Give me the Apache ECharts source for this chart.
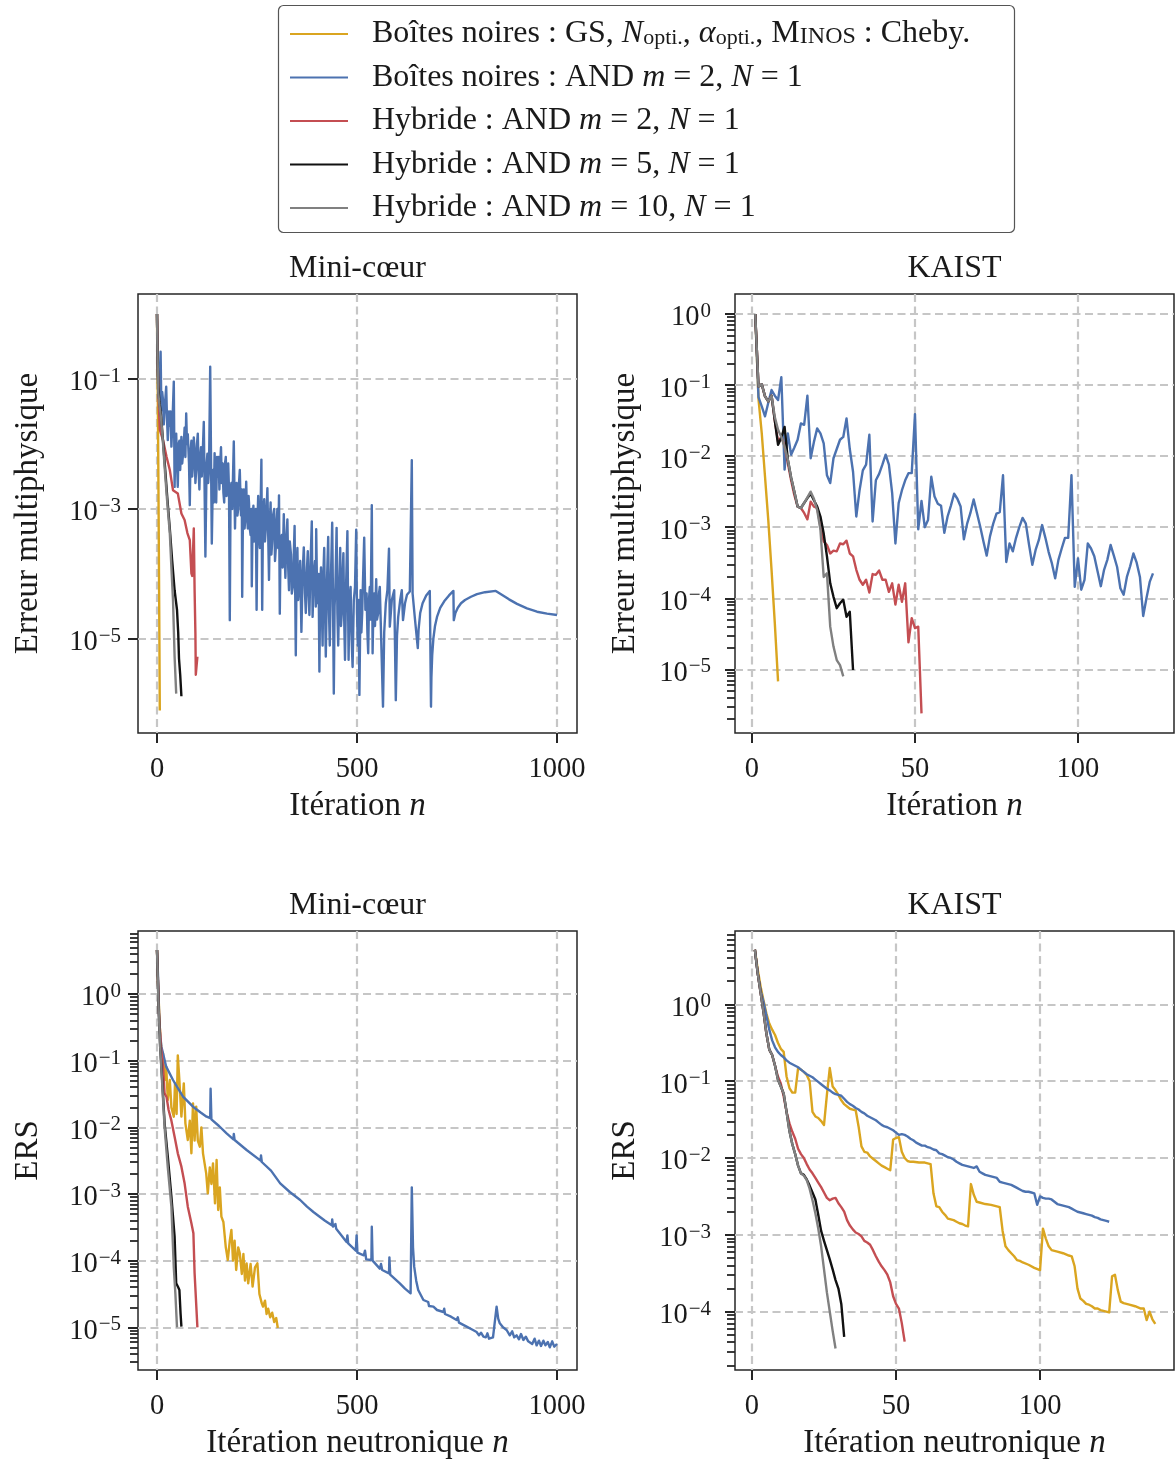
<!DOCTYPE html>
<html><head><meta charset="utf-8">
<script src="https://cdn.jsdelivr.net/npm/echarts@6/dist/echarts.min.js"></script>
<style>html,body{margin:0;padding:0;background:#fff}#c{width:1175px;height:1461px}</style>
</head><body><div id="c"></div>
<script>
// ---------- DATA (x = iteration, y = log10 of value) ----------
const seriesNames = [
  'Boîtes noires : GS, N opti., α opti., Minos : Cheby.',
  'Boîtes noires : AND m = 2, N = 1',
  'Hybride : AND m = 2, N = 1',
  'Hybride : AND m = 5, N = 1',
  'Hybride : AND m = 10, N = 1'
];
const legendLabels = [
  'Boîtes noires : GS, {i|N}{sub|opti.}, {i|α}{sub|opti.}, M{sc|INOS} : Cheby.',
  'Boîtes noires : AND {i|m} = 2, {i|N} = 1',
  'Hybride : AND {i|m} = 2, {i|N} = 1',
  'Hybride : AND {i|m} = 5, {i|N} = 1',
  'Hybride : AND {i|m} = 10, {i|N} = 1'
];
const panelTitles = ['Mini-cœur', 'KAIST', 'Mini-cœur', 'KAIST'];
const xTicksMini = [0, 500, 1000];
const xTicksKaist = [0, 50, 100];
const yTicksErrMini = [1e-1, 1e-3, 1e-5];
const yTicksErrKaist = [1, 1e-1, 1e-2, 1e-3, 1e-4, 1e-5];
const yTicksErsMini = [1, 1e-1, 1e-2, 1e-3, 1e-4, 1e-5];
const yTicksErsKaist = [1, 1e-1, 1e-2, 1e-3, 1e-4];

// Panel 1 : Mini-coeur, erreur multiphysique
const miniErrGS = [[0,0],[1,-0.8],[2,-1.3],[3,-2.1],[4,-3.0],[5,-4.0],[6,-5.0],[7,-6.1]];
const miniErrBB = [[0,0],[2,-0.9],[4,-1.3],[6,-1.1],[9,-0.58],[11,-1.48],[13,-1.2],[15,-1.32],[17,-1.7],[19,-1.48],[21,-1.3],[23,-1.12],[25,-1.6],[27,-1.94],[30,-1.5],[32,-1.72],[34,-1.5],[36,-2.04],[39,-1.6],[42,-1.04],[44,-2.66],[46,-2.0],[48,-1.84],[50,-2.3],[52,-2.66],[54,-2.0],[56,-1.95],[58,-2.4],[61,-1.89],[63,-2.3],[66,-2.1],[69,-1.75],[71,-2.2],[73,-1.53],[75,-2.0],[77,-1.85],[80,-2.3],[82,-2.94],[84,-2.1],[86,-1.95],[88,-2.5],[90,-2.3],[92,-1.9],[94,-2.09],[96,-2.6],[98,-2.4],[100,-2.0],[102,-1.84],[104,-2.4],[106,-2.7],[108,-2.2],[110,-2.05],[112,-2.5],[114,-2.2],[117,-1.66],[121,-3.73],[124,-2.3],[126,-2.15],[128,-2.6],[130,-2.4],[133,-0.81],[137,-3.53],[140,-2.4],[142,-2.9],[144,-2.14],[146,-2.6],[148,-2.9],[150,-2.2],[152,-2.5],[154,-2.2],[156,-2.7],[158,-2.3],[160,-2.05],[162,-2.6],[164,-2.3],[166,-2.75],[168,-2.9],[170,-2.3],[172,-2.2],[174,-2.8],[176,-2.5],[178,-2.3],[180,-2.7],[182,-4.71],[184,-2.7],[186,-2.6],[188,-3.0],[190,-2.5],[192,-1.96],[194,-2.9],[195,-3.3],[197,-2.7],[199,-2.6],[201,-3.1],[203,-3.0],[205,-2.6],[207,-2.4],[209,-2.9],[210,-3.1],[212,-2.7],[213,-4.35],[215,-3.0],[217,-2.7],[219,-3.3],[220,-3.2],[222,-2.8],[223,-2.58],[225,-3.1],[227,-3.3],[229,-2.8],[230,-2.9],[232,-3.3],[234,-3.4],[236,-3.0],[237,-4.19],[239,-3.2],[241,-2.95],[243,-3.5],[245,-3.27],[247,-3.0],[249,-4.55],[251,-3.2],[253,-2.8],[255,-3.4],[257,-3.6],[259,-3.0],[261,-2.24],[263,-4.55],[265,-3.1],[268,-2.85],[270,-3.5],[272,-3.3],[274,-3.0],[276,-2.68],[278,-3.4],[280,-4.09],[282,-3.2],[284,-2.9],[286,-3.7],[288,-3.5],[290,-3.1],[293,-3.0],[295,-3.8],[297,-3.6],[299,-3.2],[301,-3.0],[303,-3.6],[305,-2.79],[307,-4.61],[309,-3.5],[312,-3.4],[314,-3.9],[317,-3.08],[319,-3.7],[321,-4.06],[323,-3.5],[326,-3.16],[328,-3.9],[330,-4.25],[332,-3.5],[335,-3.7],[337,-4.3],[340,-4.18],[342,-3.7],[344,-3.26],[347,-5.25],[349,-3.9],[351,-3.6],[353,-4.4],[355,-4.2],[358,-3.8],[361,-4.89],[364,-4.0],[367,-3.59],[370,-4.3],[372,-4.6],[375,-3.9],[377,-3.65],[379,-4.3],[381,-4.63],[384,-3.8],[387,-3.19],[389,-4.66],[392,-4.0],[395,-3.8],[397,-4.5],[398,-3.31],[400,-4.2],[402,-4.45],[404,-4.0],[406,-5.5],[408,-4.2],[410,-3.9],[412,-4.5],[414,-5.1],[416,-4.0],[418,-3.6],[420,-4.5],[422,-5.27],[425,-4.1],[428,-3.43],[430,-4.6],[432,-5.1],[435,-4.0],[438,-3.21],[440,-4.4],[442,-5.84],[444,-4.5],[446,-4.2],[449,-3.29],[451,-4.6],[453,-5.1],[456,-4.1],[458,-3.6],[460,-4.8],[462,-4.6],[464,-4.0],[466,-3.68],[468,-4.7],[470,-5.32],[473,-4.1],[476,-3.34],[479,-5.32],[481,-4.4],[484,-4.2],[486,-4.9],[489,-5.43],[492,-4.4],[495,-4.2],[498,-3.32],[500,-4.6],[502,-5.1],[504,-4.4],[506,-5.86],[509,-4.25],[511,-4.9],[513,-4.6],[515,-4.1],[518,-3.44],[521,-4.55],[524,-4.3],[526,-4.9],[528,-5.22],[530,-4.4],[532,-4.2],[534,-4.7],[537,-2.94],[539,-5.22],[541,-4.5],[543,-4.3],[545,-4.8],[548,-4.08],[550,-4.7],[553,-4.6],[555,-4.3],[557,-4.2],[565,-6.04],[568,-4.9],[572,-4.45],[576,-4.25],[580,-3.61],[582,-4.81],[587,-4.4],[593,-4.25],[597,-5.94],[600,-4.95],[603,-4.66],[608,-4.4],[612,-4.25],[615,-4.71],[620,-4.45],[625,-4.32],[632,-4.27],[637,-2.25],[639,-4.3],[645,-4.7],[652,-5.14],[654,-4.85],[658,-4.6],[664,-4.45],[673,-4.33],[682,-4.26],[685,-6.04],[686,-5.6],[688,-5.25],[691,-4.99],[695,-4.8],[700,-4.66],[708,-4.52],[718,-4.42],[730,-4.33],[741,-4.26],[742,-4.71],[746,-4.6],[752,-4.52],[760,-4.45],[770,-4.4],[785,-4.35],[800,-4.31],[820,-4.28],[847,-4.26],[860,-4.31],[880,-4.39],[900,-4.46],[925,-4.53],[950,-4.58],[975,-4.61],[1000,-4.63]];
const miniErrH2 = [[0,0],[2,-0.8],[4,-1.3],[7,-1.78],[15,-1.94],[24,-2.2],[32,-2.40],[40,-2.71],[52,-2.76],[61,-3.07],[69,-3.17],[76,-3.37],[82,-3.48],[86,-3.99],[88,-4.03],[92,-3.30],[94,-4.25],[96,-4.91],[97,-5.55],[101,-5.27]];
const miniErrH5 = [[0,0],[1,-0.5],[3,-1.1],[6,-1.35],[10,-1.55],[15,-1.95],[20,-2.35],[26,-2.85],[32,-3.3],[38,-3.8],[44,-4.25],[50,-4.55],[53,-4.9],[55,-5.3],[58,-5.55],[61,-5.88]];
const miniErrH10 = [[0,0],[1,-0.5],[3,-1.2],[6,-1.4],[10,-1.6],[14,-1.9],[19,-2.35],[25,-2.85],[32,-3.37],[36,-3.9],[40,-4.4],[44,-5.27],[48,-5.84]];

// Panel 2 : KAIST, erreur multiphysique
const kaistErrGS = [[1,0],[2,-1.2],[3,-1.68],[4,-2.29],[5,-2.9],[6,-3.6],[7,-4.35],[8,-5.17]];
const kaistErrBB = [[1,0],[2,-1.17],[3,-1.3],[4,-1.44],[5,-1.25],[6,-1.07],[7,-1.15],[8,-1.21],[9,-0.89],[10,-2.19],[11,-1.68],[12,-1.98],[13,-1.88],[14,-1.77],[15,-1.54],[16,-1.56],[17,-1.15],[18,-2.03],[19,-1.8],[20,-1.61],[21,-1.68],[22,-1.82],[23,-2.27],[24,-2.38],[25,-2.03],[26,-1.9],[27,-1.77],[28,-1.73],[29,-1.47],[30,-1.9],[31,-2.22],[32,-2.85],[33,-2.48],[34,-2.2],[35,-2.12],[36,-1.70],[37,-2.92],[38,-2.34],[39,-2.25],[40,-2.12],[41,-1.98],[42,-2.12],[43,-2.52],[44,-3.23],[45,-2.66],[46,-2.48],[47,-2.34],[48,-2.24],[49,-2.24],[50,-1.41],[51,-3.03],[52,-2.63],[53,-3.0],[54,-2.9],[55,-2.29],[56,-2.57],[57,-2.67],[58,-2.70],[59,-3.08],[60,-2.85],[61,-2.7],[62,-2.53],[63,-2.6],[64,-2.71],[65,-3.17],[66,-2.95],[67,-2.8],[68,-2.61],[69,-2.8],[70,-2.99],[71,-3.2],[72,-3.40],[73,-3.13],[74,-2.95],[75,-2.81],[76,-2.79],[77,-2.27],[78,-3.49],[79,-3.23],[80,-3.34],[81,-3.15],[82,-3.0],[83,-2.87],[84,-2.95],[85,-3.25],[86,-3.53],[87,-3.32],[88,-3.18],[89,-2.97],[90,-3.15],[91,-3.35],[92,-3.51],[93,-3.72],[94,-3.46],[95,-3.3],[96,-3.15],[97,-3.15],[98,-2.27],[99,-3.84],[100,-3.44],[101,-3.88],[102,-3.74],[103,-3.23],[104,-3.3],[105,-3.41],[106,-3.62],[107,-3.83],[108,-3.6],[109,-3.46],[110,-3.25],[111,-3.4],[112,-3.56],[113,-3.86],[114,-3.95],[115,-3.70],[116,-3.55],[117,-3.37],[118,-3.5],[119,-3.70],[120,-4.25],[121,-4.0],[122,-3.77],[123,-3.65]];
const kaistErrH2 = [[1,0],[2,-1.02],[3,-0.99],[4,-1.16],[5,-1.23],[6,-1.15],[7,-1.5],[8,-1.80],[9,-1.73],[10,-1.85],[11,-2.1],[12,-2.34],[13,-2.55],[14,-2.71],[15,-2.73],[16,-2.80],[17,-2.89],[18,-2.64],[19,-2.71],[20,-2.73],[21,-2.99],[22,-3.20],[23,-3.25],[24,-3.37],[25,-3.33],[26,-3.34],[27,-3.23],[28,-3.24],[29,-3.19],[30,-3.37],[31,-3.41],[32,-3.60],[33,-3.74],[34,-3.81],[35,-3.74],[36,-3.92],[37,-3.66],[38,-3.67],[39,-3.61],[40,-3.74],[41,-3.74],[42,-3.91],[43,-3.79],[44,-4.09],[45,-3.81],[46,-4.05],[47,-3.79],[48,-4.62],[49,-4.28],[50,-4.42],[51,-4.40],[52,-5.62]];
const kaistErrH5 = [[1,0],[2,-1.02],[3,-0.99],[4,-1.16],[5,-1.23],[6,-1.15],[7,-1.5],[8,-1.84],[9,-1.74],[10,-1.59],[11,-2.05],[12,-2.3],[13,-2.5],[14,-2.71],[15,-2.73],[16,-2.66],[17,-2.59],[18,-2.53],[19,-2.62],[20,-2.71],[21,-2.85],[22,-3.09],[23,-3.41],[24,-3.79],[25,-3.98],[26,-4.14],[27,-4.07],[28,-4.02],[29,-4.26],[30,-4.19],[31,-5.01]];
const kaistErrH10 = [[1,0],[2,-1.02],[3,-0.99],[4,-1.16],[5,-1.23],[6,-1.15],[7,-1.45],[8,-1.63],[9,-1.73],[10,-1.87],[11,-2.05],[12,-2.3],[13,-2.5],[14,-2.71],[15,-2.73],[16,-2.66],[17,-2.58],[18,-2.5],[19,-2.6],[20,-2.76],[21,-3.04],[22,-3.70],[23,-3.65],[24,-4.4],[25,-4.68],[26,-4.87],[27,-4.94],[28,-5.10]];

// Panel 3 : Mini-coeur, ERS
const miniErsGS = [[0,0.66],[3,0.1],[7,-0.5],[11,-0.85],[15,-0.89],[19,-1.29],[23,-1.09],[27,-1.59],[32,-1.29],[36,-1.7],[42,-1.84],[45,-1.34],[49,-1.8],[52,-0.92],[56,-1.3],[61,-1.84],[67,-1.34],[71,-1.94],[77,-2.19],[82,-1.9],[86,-2.39],[90,-1.64],[94,-2.2],[98,-1.69],[102,-2.2],[107,-2.29],[111,-2.0],[115,-2.39],[123,-2.69],[127,-2.99],[132,-2.6],[136,-2.85],[140,-2.54],[145,-3.14],[149,-2.49],[153,-3.24],[157,-2.9],[161,-3.34],[166,-3.42],[172,-3.8],[177,-3.99],[182,-3.7],[186,-3.54],[190,-4.0],[194,-3.7],[198,-4.14],[203,-3.8],[207,-3.89],[212,-4.2],[216,-3.9],[220,-4.3],[224,-4.04],[228,-4.34],[234,-4.05],[239,-4.39],[245,-4.1],[251,-4.04],[256,-4.5],[262,-4.64],[265,-4.69],[270,-4.6],[274,-4.8],[278,-4.72],[283,-4.85],[288,-4.78],[293,-4.92],[298,-4.86],[302,-5.01]];
const miniErsBB = [[0,0.66],[3,0.2],[6,-0.5],[11,-0.79],[15,-0.89],[23,-1.09],[40,-1.29],[65,-1.54],[90,-1.69],[110,-1.78],[124,-1.84],[133,-1.86],[134,-1.42],[136,-1.88],[155,-1.98],[174,-2.09],[191,-2.18],[192,-2.1],[194,-2.19],[224,-2.34],[259,-2.50],[260,-2.42],[262,-2.52],[285,-2.65],[308,-2.84],[332,-2.97],[358,-3.09],[375,-3.19],[391,-3.27],[400,-3.31],[420,-3.4],[437,-3.47],[438,-3.38],[440,-3.49],[446,-3.45],[448,-3.52],[474,-3.72],[476,-3.62],[478,-3.74],[497,-3.85],[499,-3.62],[501,-3.88],[517,-3.92],[520,-3.85],[523,-3.98],[536,-3.99],[537,-3.49],[539,-4.0],[557,-4.12],[560,-4.05],[563,-4.14],[580,-4.19],[581,-3.95],[583,-4.21],[607,-4.34],[620,-4.42],[634,-4.49],[637,-2.9],[640,-3.8],[643,-4.09],[648,-4.3],[653,-4.44],[666,-4.59],[678,-4.62],[680,-4.68],[691,-4.69],[700,-4.74],[716,-4.77],[718,-4.72],[720,-4.8],[735,-4.84],[749,-4.89],[752,-4.85],[755,-4.93],[774,-4.99],[790,-5.04],[799,-5.07],[805,-5.12],[810,-5.08],[816,-5.14],[822,-5.15],[826,-5.09],[830,-5.17],[840,-5.15],[845,-5.17],[849,-4.69],[853,-4.87],[857,-4.94],[865,-5.0],[874,-5.04],[882,-5.12],[888,-5.06],[893,-5.15],[899,-5.12],[905,-5.18],[910,-5.1],[916,-5.19],[922,-5.14],[928,-5.21],[932,-5.19],[938,-5.25],[944,-5.17],[949,-5.27],[955,-5.2],[960,-5.28],[966,-5.2],[971,-5.27],[977,-5.22],[982,-5.3],[988,-5.21],[993,-5.29],[1000,-5.25]];
const miniErsH2 = [[0,0.66],[5,-0.3],[10,-0.8],[15,-1.09],[19,-1.49],[24,-1.55],[29,-1.74],[36,-1.9],[44,-2.14],[52,-2.39],[61,-2.59],[69,-2.84],[77,-3.19],[86,-3.44],[91,-3.59],[94,-4.19],[101,-5.0]];
const miniErsH5 = [[0,0.66],[4,-0.2],[8,-0.8],[13,-1.3],[19,-1.94],[27,-2.44],[36,-3.04],[44,-3.64],[48,-4.34],[53,-4.4],[56,-4.44],[59,-4.8],[61,-4.99]];
const miniErsH10 = [[0,0.66],[4,-0.2],[8,-0.8],[13,-1.35],[19,-2.0],[27,-2.6],[36,-3.19],[42,-4.1],[46,-4.5],[50,-5.0]];

// Panel 4 : KAIST, ERS
const kaistErsGS = [[1,0.71],[2,0.45],[3,0.23],[4,0.05],[5,-0.12],[6,-0.25],[7,-0.33],[8,-0.4],[9,-0.5],[10,-0.58],[11,-0.62],[12,-0.94],[13,-1.09],[14,-1.15],[15,-1.15],[16,-0.83],[17,-0.85],[18,-0.88],[19,-0.92],[20,-1.0],[21,-1.40],[22,-1.46],[23,-1.48],[24,-1.52],[25,-1.57],[26,-1.18],[27,-0.83],[28,-1.07],[29,-1.12],[30,-1.18],[31,-1.25],[32,-1.3],[33,-1.33],[34,-1.36],[35,-1.37],[36,-1.38],[37,-1.59],[38,-1.85],[39,-1.92],[40,-1.93],[41,-1.98],[42,-2.01],[43,-2.04],[44,-2.07],[45,-2.1],[46,-2.12],[47,-2.14],[48,-2.16],[49,-1.76],[50,-1.74],[51,-1.73],[52,-1.92],[53,-2.0],[54,-2.04],[55,-2.05],[56,-2.05],[58,-2.06],[60,-2.06],[62,-2.08],[63,-2.46],[64,-2.63],[65,-2.64],[66,-2.7],[67,-2.74],[68,-2.79],[69,-2.80],[70,-2.81],[71,-2.83],[72,-2.85],[73,-2.86],[74,-2.88],[75,-2.89],[76,-2.34],[77,-2.48],[78,-2.57],[79,-2.58],[81,-2.6],[83,-2.61],[85,-2.63],[86,-2.64],[87,-2.95],[88,-3.15],[89,-3.2],[90,-3.24],[91,-3.28],[92,-3.33],[93,-3.34],[94,-3.36],[96,-3.39],[98,-3.43],[100,-3.46],[101,-2.92],[102,-3.05],[103,-3.15],[104,-3.2],[106,-3.22],[108,-3.24],[110,-3.27],[111,-3.28],[112,-3.41],[113,-3.7],[114,-3.83],[115,-3.86],[116,-3.9],[117,-3.91],[118,-3.93],[119,-3.96],[120,-3.96],[121,-3.98],[122,-3.99],[123,-4.0],[124,-4.01],[125,-3.54],[126,-3.52],[127,-3.72],[128,-3.87],[129,-3.89],[131,-3.91],[133,-3.93],[135,-3.96],[136,-3.96],[137,-4.11],[138,-4.0],[139,-4.1],[140,-4.16]];
const kaistErsBB = [[1,0.71],[2,0.4],[3,0.18],[4,0.03],[5,-0.15],[6,-0.33],[7,-0.47],[8,-0.56],[9,-0.62],[10,-0.66],[11,-0.69],[12,-0.73],[13,-0.76],[14,-0.78],[15,-0.8],[16,-0.82],[17,-0.85],[18,-0.88],[19,-0.91],[20,-0.93],[21,-0.95],[22,-0.98],[23,-1.01],[24,-1.04],[25,-1.07],[26,-1.1],[27,-1.12],[28,-1.15],[29,-1.17],[30,-1.18],[31,-1.19],[32,-1.23],[33,-1.27],[34,-1.3],[35,-1.32],[36,-1.35],[37,-1.37],[38,-1.4],[39,-1.42],[40,-1.45],[41,-1.47],[42,-1.49],[43,-1.51],[44,-1.54],[45,-1.57],[46,-1.59],[47,-1.60],[48,-1.62],[49,-1.64],[50,-1.67],[51,-1.70],[52,-1.69],[53,-1.70],[54,-1.72],[55,-1.75],[56,-1.77],[57,-1.8],[58,-1.82],[59,-1.84],[60,-1.84],[61,-1.86],[62,-1.87],[63,-1.89],[64,-1.90],[65,-1.94],[66,-1.95],[67,-1.97],[68,-1.99],[69,-2.0],[70,-2.02],[71,-2.05],[72,-2.07],[73,-2.09],[74,-2.1],[75,-2.11],[76,-2.12],[77,-2.13],[78,-2.11],[79,-2.18],[80,-2.2],[81,-2.22],[82,-2.23],[83,-2.24],[84,-2.25],[85,-2.26],[86,-2.31],[87,-2.32],[88,-2.33],[89,-2.34],[90,-2.35],[91,-2.37],[92,-2.39],[93,-2.41],[94,-2.43],[95,-2.44],[96,-2.44],[97,-2.45],[98,-2.46],[99,-2.61],[100,-2.50],[101,-2.52],[102,-2.53],[103,-2.53],[104,-2.54],[105,-2.57],[106,-2.60],[107,-2.61],[108,-2.62],[109,-2.63],[110,-2.64],[111,-2.66],[112,-2.68],[113,-2.70],[114,-2.71],[115,-2.72],[116,-2.73],[117,-2.74],[118,-2.75],[119,-2.77],[120,-2.78],[121,-2.80],[122,-2.81],[123,-2.82],[124,-2.83]];
const kaistErsH2 = [[1,0.71],[2,0.4],[3,0.15],[4,-0.1],[5,-0.38],[6,-0.59],[7,-0.66],[8,-0.8],[9,-0.94],[10,-1.03],[11,-1.2],[12,-1.4],[13,-1.55],[14,-1.66],[15,-1.75],[16,-1.88],[17,-1.95],[18,-2.0],[19,-2.08],[20,-2.15],[21,-2.2],[22,-2.26],[23,-2.32],[24,-2.38],[25,-2.45],[26,-2.52],[27,-2.55],[28,-2.53],[29,-2.52],[30,-2.59],[31,-2.64],[32,-2.7],[33,-2.81],[34,-2.88],[35,-2.93],[36,-2.97],[37,-2.99],[38,-3.02],[39,-3.08],[40,-3.1],[41,-3.13],[42,-3.2],[43,-3.28],[44,-3.35],[45,-3.41],[46,-3.46],[47,-3.52],[48,-3.62],[49,-3.8],[50,-3.9],[51,-3.96],[52,-4.15],[53,-4.39]];
const kaistErsH5 = [[1,0.71],[2,0.4],[3,0.15],[4,-0.1],[5,-0.38],[6,-0.59],[7,-0.66],[8,-0.8],[9,-0.98],[10,-1.07],[11,-1.16],[12,-1.4],[13,-1.65],[14,-1.82],[15,-1.95],[16,-2.1],[17,-2.2],[18,-2.22],[19,-2.28],[20,-2.36],[21,-2.45],[22,-2.54],[23,-2.74],[24,-2.95],[25,-3.08],[26,-3.2],[27,-3.32],[28,-3.45],[29,-3.59],[30,-3.7],[31,-3.9],[32,-4.33]];
const kaistErsH10 = [[1,0.71],[2,0.4],[3,0.15],[4,-0.1],[5,-0.38],[6,-0.59],[7,-0.66],[8,-0.8],[9,-0.98],[10,-1.07],[11,-1.16],[12,-1.4],[13,-1.65],[14,-1.82],[15,-1.95],[16,-2.1],[17,-2.2],[18,-2.23],[19,-2.29],[20,-2.4],[21,-2.55],[22,-2.72],[23,-2.92],[24,-3.15],[25,-3.45],[26,-3.75],[27,-4.0],[28,-4.25],[29,-4.48]];

// ---------- STYLE / LAYOUT ----------
const FONT = '"Liberation Serif", "Times New Roman", serif';
const TXT = '#1a1a1a';
const COLORS = ['#DAA520', '#4C72B0', '#C44E52', '#111111', '#808080'];
const toPts = arr => arr.map(p => [p[0], Math.pow(10, p[1])]);

const panels = [
  [miniErrGS, miniErrBB, miniErrH2, miniErrH5, miniErrH10],
  [kaistErrGS, kaistErrBB, kaistErrH2, kaistErrH5, kaistErrH10],
  [miniErsGS, miniErsBB, miniErsH2, miniErsH5, miniErsH10],
  [kaistErsGS, kaistErsBB, kaistErsH2, kaistErsH5, kaistErsH10]
];

const gridBoxes = [
  {left: 138, top: 294}, {left: 735, top: 294},
  {left: 138, top: 931}, {left: 735, top: 931}
];

function powLabel(v) {
  const e = Math.round(Math.log10(v));
  return '{b|10}{s|' + (e < 0 ? '\u2212' + (-e) : String(e)) + '}';
}

const gridLine = {show: true, lineStyle: {type: [8, 4.5], color: '#c6c6c6', width: 2.2}};
const tickStyle = {color: '#262626', width: 2};

function makeX(gi, min, max, ticks, name) {
  return {
    type: 'value', gridIndex: gi, min: min, max: max,
    name: name, nameLocation: 'middle', nameGap: 55,
    nameTextStyle: {fontFamily: FONT, fontSize: 33, color: TXT, lineHeight: 36,
      rich: {i: {fontFamily: FONT, fontSize: 33, fontStyle: 'italic', color: TXT, lineHeight: 36}}},
    axisLine: {show: false, onZero: false},
    axisTick: {show: true, length: 10, lineStyle: tickStyle, customValues: ticks},
    axisLabel: {customValues: ticks, margin: 21, fontFamily: FONT, fontSize: 28.5, color: TXT, lineHeight: 32,
      formatter: v => String(v)},
    splitLine: gridLine,
    minorTick: {show: false}
  };
}
function makeY(gi, lo, hi, ticks, name, minor, labelMargin) {
  return {
    type: 'log', logBase: 10, gridIndex: gi, min: Math.pow(10, lo), max: Math.pow(10, hi),
    name: name, nameLocation: 'middle', nameGap: 92,
    nameTextStyle: {fontFamily: FONT, fontSize: 33, color: TXT, lineHeight: 36},
    axisLine: {show: false, onZero: false},
    axisTick: {show: true, length: 10, lineStyle: tickStyle, customValues: ticks},
    minorTick: {show: minor, splitNumber: 9, length: 8, lineStyle: {color: '#262626', width: 1.8}},
    axisLabel: {customValues: ticks, margin: labelMargin, formatter: powLabel, padding: [8, 0, 0, 0],
      rich: {
        b: {fontFamily: FONT, fontSize: 28.5, lineHeight: 34, color: TXT},
        s: {fontFamily: FONT, fontSize: 21, lineHeight: 18, verticalAlign: 'top', color: TXT, padding: [0, 0, 0, 1]}
      }},
    splitLine: gridLine
  };
}

const xName1 = 'Itération {i|n}';
const xName2 = 'Itération neutronique {i|n}';

const option = {
  animation: false,
  backgroundColor: '#ffffff',
  graphic: [{
    type: 'rect', z: -10, silent: true,
    shape: {x: 278.5, y: 5.5, width: 736, height: 227, r: 5},
    style: {fill: '#ffffff', stroke: '#555555', lineWidth: 1.2}
  }],
  title: panelTitles.map((t, i) => ({
    text: t, left: gridBoxes[i].left + 219.5, top: gridBoxes[i].top - 43,
    textAlign: 'center', padding: 0,
    textStyle: {fontFamily: FONT, fontSize: 32, fontWeight: 'normal', color: TXT, lineHeight: 36}
  })),
  legend: {
    orient: 'vertical', left: 290, top: 18, padding: 0, itemGap: 11.5,
    itemWidth: 58, itemHeight: 2, icon: 'rect',
    data: seriesNames,
    formatter: name => '{g| }' + legendLabels[seriesNames.indexOf(name)],
    textStyle: {
      fontFamily: FONT, fontSize: 32, color: TXT, lineHeight: 30,
      rich: {
        g: {width: 19, fontSize: 10, lineHeight: 30},
        i: {fontFamily: FONT, fontSize: 32, fontStyle: 'italic', color: TXT, lineHeight: 30},
        sub: {fontFamily: FONT, fontSize: 22, color: TXT, lineHeight: 12, verticalAlign: 'bottom'},
        sc: {fontFamily: FONT, fontSize: 24, color: TXT, lineHeight: 25, verticalAlign: 'bottom'}
      }
    }
  },
  grid: gridBoxes.map(g => ({left: g.left, top: g.top, width: 439, height: 439, show: true,
    borderColor: '#262626', borderWidth: 1.5, backgroundColor: 'transparent',
    containLabel: false, outerBoundsMode: 'none'})),
  xAxis: [
    makeX(0, -47.5, 1050, xTicksMini, xName1),
    makeX(1, -5.21, 129.45, xTicksKaist, xName1),
    makeX(2, -47.5, 1050, xTicksMini, xName2),
    makeX(3, -5.9, 146.5, xTicksKaist, xName2)
  ],
  yAxis: [
    makeY(0, -6.446, 0.3077, yTicksErrMini, 'Erreur multiphysique', false, 17),
    makeY(1, -5.896, 0.281, yTicksErrKaist, 'Erreur multiphysique', true, 24),
    makeY(2, -5.64, 0.945, yTicksErsMini, 'ERS', true, 17),
    makeY(3, -4.76, 0.954, yTicksErsKaist, 'ERS', true, 24)
  ],
  series: []
};

panels.forEach((set, gi) => {
  set.forEach((data, k) => {
    option.series.push({
      type: 'line', name: seriesNames[k], xAxisIndex: gi, yAxisIndex: gi,
      data: toPts(data), showSymbol: false, symbol: 'none', silent: true,
      color: COLORS[k], lineStyle: {width: 2.4, color: COLORS[k], join: 'round'},
      emphasis: {disabled: true}, clip: true
    });
  });
});

const chart = echarts.init(document.getElementById('c'), null, {renderer: 'canvas'});
chart.setOption(option);
</script>
</body></html>
